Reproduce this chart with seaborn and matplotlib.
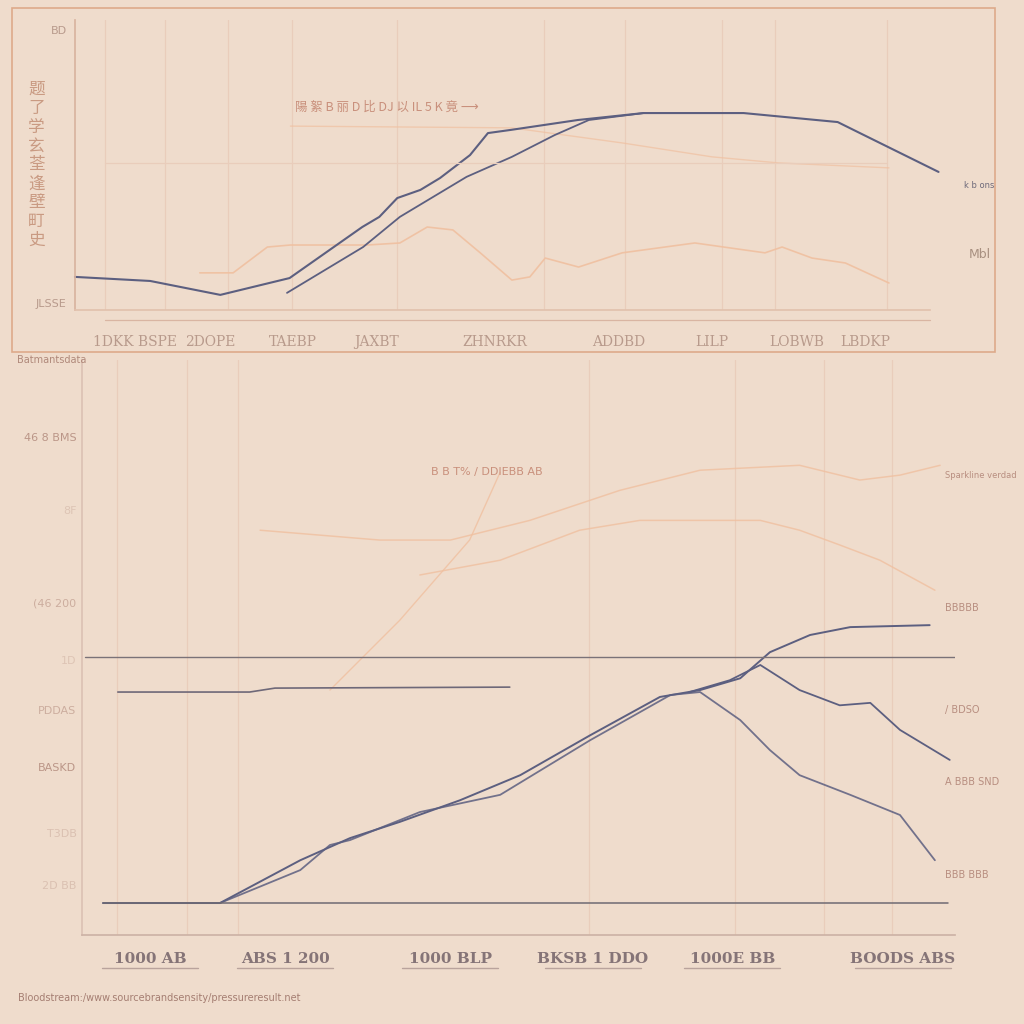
import matplotlib
matplotlib.use("Agg")
import matplotlib.pyplot as plt
import seaborn as sns
from matplotlib.patches import Rectangle

# ---- top panel data ----
top_x1 = [0, 8.8, 17.0, 25.1, 33.6, 35.6, 37.7, 40.4, 42.7, 46.2, 48.3, 51.0, 58.8, 66.5, 78.2, 89.2, 91.8, 101.0]
top_y1 = [11.4, 10.0, 5.2, 11.0, 28.6, 32.1, 38.6, 41.4, 45.5, 53.4, 61.0, 62.1, 65.5, 67.9, 67.9, 64.8, 61.0, 47.6]
top_x2 = [24.8, 33.7, 38.0, 45.8, 51.1, 56.1, 60.1, 66.5]
top_y2 = [5.9, 21.7, 32.1, 45.9, 52.8, 60.3, 65.5, 67.9]
top_ox = [14.6, 18.5, 22.5, 25.2, 34.2, 38.0, 41.2, 44.2, 47.4, 51.1, 53.2, 55.0, 58.9, 64.0, 72.5, 80.7, 82.7, 86.2, 90.1, 95.2]
top_oy = [12.8, 12.8, 21.7, 22.4, 22.4, 23.1, 28.6, 27.6, 19.7, 10.3, 11.4, 17.9, 14.8, 19.7, 23.1, 19.7, 21.7, 17.9, 16.2, 9.3]
top_ux = [25.2, 51.1, 64.0, 74.5, 82.3, 95.2]
top_uy = [63.4, 62.8, 57.6, 52.8, 50.7, 49.0]
top_vgrid = [3.5, 10.5, 17.9, 25.4, 37.7, 54.9, 64.3, 75.7, 81.9, 95.0]
top_tick_pos = [7.0, 15.8, 25.5, 35.3, 49.1, 63.6, 74.5, 84.4, 92.4]
top_tick_labels = ["1DKK BSPE", "2DOPE", "TAEBP", "JAXBT", "ZHNRKR", "ADDBD", "LILP", "LOBWB", "LBDKP"]
top_ytick_pos = [2.4, 96.5]
top_ytick_labels = ["JLSSE", "BD"]
top_ylabel = "题了学玄荃逢壁町史"
top_title = "陽 絮 B 丽 D 比 DJ 以 IL 5 K 竟 ⟶"

# ---- bottom panel data ----
bot_x1 = [2.4, 15.8, 25.0, 30.7, 36.4, 43.3, 50.2, 58.2, 66.2, 70.8, 75.4, 78.8, 83.4, 88.0, 97.1]
bot_y1 = [0, 0, 8.7, 13.2, 16.5, 20.9, 26.0, 34.1, 41.9, 43.3, 45.7, 51.0, 54.5, 56.1, 56.5]
bot_x2 = [15.8, 25.0, 28.4, 30.7, 38.7, 47.9, 58.2, 67.4, 70.8, 75.4, 78.8, 82.2, 88.0, 93.7, 97.7]
bot_y2 = [0, 6.7, 11.8, 12.8, 18.5, 22.0, 33.1, 42.3, 42.9, 37.2, 31.1, 26.0, 22.0, 17.9, 8.7]
bot_x3 = [69.6, 74.2, 77.7, 82.2, 86.8, 90.3, 93.7, 99.4]
bot_y3 = [42.9, 45.3, 48.4, 43.3, 40.2, 40.7, 35.2, 29.1]
bot_x4 = [4.1, 19.2, 22.1, 49.0]
bot_y4 = [42.9, 42.9, 43.7, 43.9]
bot_ox1 = [28.4, 36.4, 44.4, 47.9]
bot_oy1 = [43.3, 57.5, 73.8, 87.6]
bot_ox2 = [20.4, 34.1, 42.2, 51.3, 61.6, 70.8, 82.2, 89.1, 93.7, 98.3]
bot_oy2 = [75.8, 73.8, 73.8, 77.8, 83.9, 88.0, 89.0, 86.0, 87.0, 89.0]
bot_ox3 = [38.7, 47.9, 57.0, 63.9, 70.8, 77.7, 82.2, 86.8, 91.4, 97.7]
bot_oy3 = [66.7, 69.7, 75.8, 77.8, 77.8, 77.8, 75.8, 72.8, 69.7, 63.6]
bot_vgrid = [4.0, 12.0, 17.9, 23.3, 58.1, 74.8, 85.0, 92.8]
bot_tick_pos = [7.8, 23.3, 42.2, 58.5, 74.5, 94.0]
bot_tick_labels = ["1000 AB", "ABS 1 200", "1000 BLP", "BKSB 1 DDO", "1000E BB", "BOODS ABS"]
bot_ytick_pos = [3.7, 14.2, 27.6, 39.2, 49.4, 61.2, 79.9, 94.7]
bot_ytick_labels = ["2D BB", "T3DB", "BASKD", "PDDAS", "1D", "(46 200", "8F", "46 8 BMS"]
bot_ytick_alpha = [0.35, 0.35, 0.9, 0.6, 0.3, 0.6, 0.3, 0.9]
right_labels = ["Sparkline verdad", "BBBBB", "/ BDSO", "A BBB SND", "BBB BBB"]
right_label_y = [87.0, 60.0, 39.2, 24.6, 5.7]
right_label_size = [6, 7, 7, 7, 7]

bg = "#EFDCCC"
navy = "#5C5F80"
faint = "#F0C0A0"
grid_c = "#E9CDBB"
txt = "#B89A8C"

sns.set_theme(style="white")
plt.rcParams["font.family"] = ["DejaVu Sans", "Noto Sans CJK SC"]

fig = plt.figure(figsize=(10.24, 10.24), dpi=100, facecolor=bg)

# ---------------- top panel ----------------
ax1 = fig.add_axes([0.0732, 0.6973, 0.835, 0.2832], facecolor=bg)
for xs, ys, c, lw, a in [(top_ux, top_uy, faint, 1.0, 0.7),
                         (top_ox, top_oy, faint, 1.2, 0.9),
                         (top_x2, top_y2, navy, 1.3, 1.0),
                         (top_x1, top_y1, navy, 1.5, 1.0)]:
    sns.lineplot(x=xs, y=ys, ax=ax1, color=c, lw=lw, alpha=a, clip_on=False)
ax1.axhline(50.7, xmin=0.035, xmax=0.95, color=grid_c, lw=0.9)
ax1.set_xlim(0, 100)
ax1.set_ylim(0, 100)
ax1.set_xticks(top_vgrid, minor=True)
ax1.grid(which="minor", axis="x", color=grid_c, lw=0.9)
ax1.set_xticks(top_tick_pos)
ax1.set_xticklabels(top_tick_labels, fontsize=10, color=txt, family="DejaVu Serif")
ax1.tick_params(axis="x", which="both", length=0, pad=18)
ax1.set_yticks(top_ytick_pos)
ax1.set_yticklabels(top_ytick_labels, fontsize=8, color=txt)
ax1.tick_params(axis="y", length=0, pad=6)
for s in ["top", "right"]:
    ax1.spines[s].set_visible(False)
ax1.spines["left"].set_color("#D9B4A0")
ax1.spines["bottom"].set_color("#E2C2AE")
ax1.text(-0.045, 0.5, "\n".join(top_ylabel), transform=ax1.transAxes, ha="center", va="center",
         fontsize=12, color="#C99A82", family=["Noto Sans CJK SC", "DejaVu Sans"], linespacing=1.15)
ax1.text(0.257, 0.675, top_title, transform=ax1.transAxes, fontsize=9, color="#C9907C",
         family=["Noto Sans CJK SC", "DejaVu Sans"], va="bottom")
ax1.text(1.04, 0.42, "k b ons", transform=ax1.transAxes, fontsize=6, color="#6E6A7A")
ax1.text(1.045, 0.18, "Mbl", transform=ax1.transAxes, fontsize=9, color="#A89080")

fig.patches.append(Rectangle((12 / 1024, 1 - 352 / 1024), 983 / 1024, 344 / 1024,
                             transform=fig.transFigure, fill=False, ec="#DDAA8A", lw=1.2))
fig.add_artist(plt.Line2D([105 / 1024, 930 / 1024], [1 - 320 / 1024] * 2, transform=fig.transFigure,
                          color="#D9B5A2", lw=0.9))

# ---------------- bottom panel ----------------
ax2 = fig.add_axes([0.0801, 0.0869, 0.8525, 0.5615], facecolor=bg)
for xs, ys, c, lw, a in [(bot_ox1, bot_oy1, faint, 1.0, 0.8),
                         (bot_ox2, bot_oy2, faint, 1.1, 0.8),
                         (bot_ox3, bot_oy3, faint, 1.1, 0.8),
                         (bot_x4, bot_y4, "#6E6878", 1.2, 1.0),
                         (bot_x3, bot_y3, navy, 1.3, 1.0),
                         (bot_x2, bot_y2, navy, 1.3, 0.85),
                         (bot_x1, bot_y1, navy, 1.4, 1.0)]:
    sns.lineplot(x=xs, y=ys, ax=ax2, color=c, lw=lw, alpha=a, clip_on=False)
ax2.axhline(0, xmin=0.024, xmax=0.992, color="#6F6A72", lw=1.1)
ax2.axhline(50, xmin=0.003, xmax=1.0, color="#7A7278", lw=1.0)
ax2.set_xlim(0, 100)
ax2.set_ylim(-6.5, 110.4)
ax2.set_xticks(bot_vgrid, minor=True)
ax2.grid(which="minor", axis="x", color=grid_c, lw=0.9)
ax2.set_xticks(bot_tick_pos)
ax2.set_xticklabels(bot_tick_labels, fontsize=11, color="#857477", family="DejaVu Serif",
                    fontweight="bold")
ax2.tick_params(axis="x", which="both", length=0, pad=12)
# short underline beneath each bottom tick label
for p in bot_tick_pos:
    ax2.plot([p - 5.5, p + 5.5], [-0.058, -0.058], transform=ax2.get_xaxis_transform(),
             color="#B9A39C", lw=1.0, clip_on=False)
ax2.set_yticks(bot_ytick_pos)
ax2.set_yticklabels(bot_ytick_labels, fontsize=8, color="#B58E80")
for lab, a in zip(ax2.get_yticklabels(), bot_ytick_alpha):
    lab.set_alpha(a)
ax2.tick_params(axis="y", length=0, pad=4)
for s in ["top", "right"]:
    ax2.spines[s].set_visible(False)
ax2.spines["left"].set_color("#DCC2B4")
ax2.spines["bottom"].set_color("#CDB3A6")
for lab, yv, fs in zip(right_labels, right_label_y, right_label_size):
    ax2.text(98.9, yv, lab, fontsize=fs, color="#B88E80", va="center")
ax2.text(-0.075, 1.0, "Batmantsdata", transform=ax2.transAxes, fontsize=7, color="#B0897A", va="center")
ax2.text(0.4, 0.8, "B B T% / DDIEBB AB", transform=ax2.transAxes, fontsize=8, color="#C9907C")

fig.text(18 / 1024, 1 - 998 / 1024, "Bloodstream:/www.sourcebrandsensity/pressureresult.net",
         fontsize=7, color="#A57E72", va="center")

fig.savefig("out.png", dpi=100, facecolor=bg)
